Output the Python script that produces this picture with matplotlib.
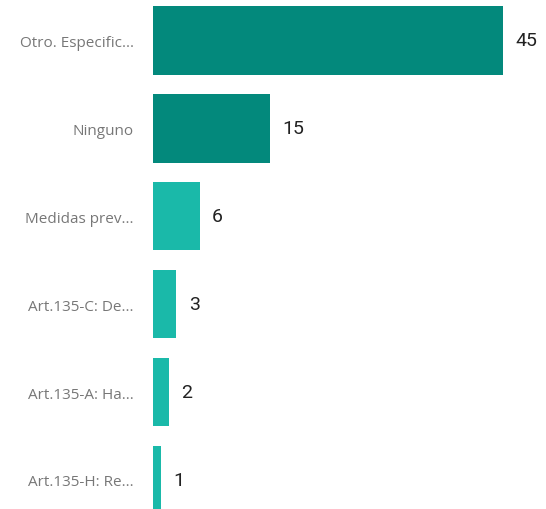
import numpy as np
import matplotlib.pyplot as plt

categorias = ["Otro. Especific...", "Ninguno", "Medidas prev...",
              "Art.135-C: De...", "Art.135-A: Ha...", "Art.135-H: Re..."]
valores = [45, 15, 6, 3, 2, 1]
colores = ["#03897C", "#03897C", "#1AB9A9", "#1AB9A9", "#1AB9A9", "#1AB9A9"]

fig = plt.figure(figsize=(5.46, 5.10), dpi=100)
ax = fig.add_axes([153/546, 0, 1 - 153/546, 1])

y = np.arange(len(categorias))
ax.barh(y, valores, height=0.78, color=colores)

for yi, v in zip(y, valores):
    ax.annotate(str(v), (v, yi), xytext=(9, 0), textcoords="offset points",
                va="center", ha="left", fontsize=14, color="#222222",
                family="Roboto")

ax.set_yticks(y)
ax.set_yticklabels(categorias, fontsize=11, color="#777777", family="Open Sans")
ax.tick_params(axis="y", length=0, pad=14)
ax.set_xticks([])
ax.set_xlim(0, 393 / (350 / 45))
ax.set_ylim(5.33, -0.47)
for s in ax.spines.values():
    s.set_visible(False)

fig.savefig("out.png", dpi=100)
